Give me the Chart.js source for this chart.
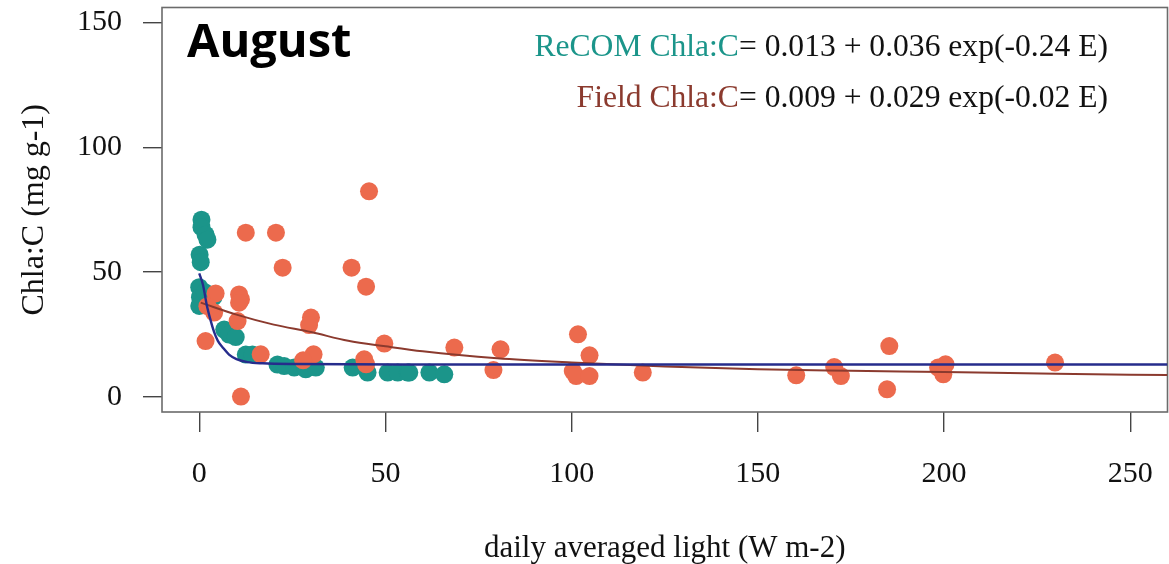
<!DOCTYPE html>
<html>
<head>
<meta charset="utf-8">
<script src="https://cdn.jsdelivr.net/npm/chart.js@4/dist/chart.umd.min.js"></script>
<style>
  html, body { margin: 0; padding: 0; background: #fff; }
  #wrap { position: relative; width: 1169px; height: 564px; }
</style>
</head>
<body>
<div id="wrap"><canvas id="chlChart"></canvas></div>
<script>
// ReCOM model points (daily averaged light, Chla:C)
const RECOM_X = [0.6, 0.6, 1.7, 2.2, 0.1, 0.4, 0, 0.2, 0, 1.5, 2.8, 3.8,
                 6.7, 8, 9.8, 12.5, 14.3, 21, 22.8, 25.5, 28.6, 31.3,
                 41.2, 45.2, 50.6, 53.3, 56, 56.4, 61.8, 65.8];
const RECOM_Y = [71, 68, 65, 63, 57, 54, 44, 40, 36.5, 42, 38, 40,
                 27, 25, 24, 17, 17, 13, 12.4, 11.8, 11.1, 11.8,
                 11.8, 9.8, 9.8, 9.8, 9.8, 9.8, 9.8, 9.1];

// field observations
const FIELD_X = [45.6, 12.5, 20.6, 22.4, 40.9, 44.8, 4.4, 10.7, 11.2, 10.7, 2.2, 4.0,
                 10.3, 30.0, 29.5, 1.7, 49.7, 16.5, 30.7, 27.9, 44.3, 44.8, 11.2,
                 68.5, 80.9, 79.0, 101.7, 104.8, 100.3, 101.2, 104.8, 119.1,
                 160.3, 170.5, 172.3, 185.3, 184.7, 198.4, 200.4, 199.8, 229.8];
const FIELD_Y = [82.4, 65.8, 65.8, 51.8, 51.8, 44.2, 41.5, 41.1, 39.1, 37.8, 36.4, 33.8,
                 30.4, 31.8, 28.8, 22.4, 21.4, 17.1, 17.1, 14.7, 15.1, 13.1, 0.2,
                 19.8, 19.1, 10.8, 25.1, 16.7, 10.4, 8.4, 8.4, 9.8,
                 8.7, 12.0, 8.4, 20.4, 3.1, 11.8, 13.1, 9.1, 13.8];

// fitted curves
const RECOM_FIT_X = [0, 1, 2, 3, 4, 5, 6.5, 8, 10, 13, 17, 25, 60, 260];
const RECOM_FIT_Y = [49.5, 45, 37, 31, 26, 22.5, 19.5, 17, 15.2, 14, 13.5, 13.2, 13, 13];
const FIELD_FIT_X = [0.4, 10, 20, 30, 40, 50, 60, 80, 100, 125, 150, 175, 200, 230, 260];
const FIELD_FIT_Y = [37.8, 33, 29, 26, 22.5, 20.3, 18.3, 15.5, 13.8, 12.2, 11.1, 10.5, 10, 9.3, 8.8];

const X_TICKS = [0, 50, 100, 150, 200, 250];
const Y_TICKS = [0, 50, 100, 150];

const PANEL_LABEL = 'August';
const EQ_RECOM = ['ReCOM Chla:C', '= 0.013 + 0.036 exp(-0.24 E)'];
const EQ_FIELD = ['Field Chla:C', '= 0.009 + 0.029 exp(-0.02 E)'];

const TEAL = '#1b958a';
const ORANGE = '#ec6a4d';
const NAVY = '#262c8c';
const BROWN = '#8b3a2e';

function toXY(xs, ys) {
    return xs.map((x, i) => ({ x: x, y: ys[i] }));
}

// no label overhang padding, so the plot box sits where R put it
function noOverhang(axis) {
    axis.paddingTop = 0;
    axis.paddingBottom = 0;
    axis.paddingLeft = 0;
    axis.paddingRight = 0;
}

const SERIF = '"Liberation Serif", "Times New Roman", serif';

// R-style box plus the panel text
const annotate = {
    id: 'annotate',
    beforeDatasetsDraw(chart) {
        const { ctx, chartArea: a } = chart;
        ctx.save();
        ctx.strokeStyle = '#6b6b6b';
        ctx.lineWidth = 1.6;
        ctx.strokeRect(a.left, a.top, a.right - a.left, a.bottom - a.top);
        ctx.restore();
    },
    afterDraw(chart) {
        const ctx = chart.ctx;
        ctx.save();
        ctx.font = 'bold 47px "Open Sans", "Noto Sans", sans-serif';
        ctx.fillStyle = '#000';
        ctx.textBaseline = 'alphabetic';
        ctx.textAlign = 'left';
        ctx.fillText(PANEL_LABEL, 187, 57);

        ctx.font = '31.6px ' + SERIF;
        ctx.textAlign = 'right';
        const rightX = 1108;
        [[EQ_RECOM, TEAL, 56], [EQ_FIELD, BROWN, 107]].forEach(([parts, col, y]) => {
            const w = ctx.measureText(parts[1]).width;
            ctx.fillStyle = '#111';
            ctx.fillText(parts[1], rightX, y);
            ctx.fillStyle = col;
            ctx.fillText(parts[0], rightX - w, y);
        });
        ctx.restore();
    }
};

Chart.defaults.font.family = SERIF;
Chart.defaults.color = '#111';

new Chart(document.getElementById('chlChart'), {
    type: 'scatter',
    data: {
        datasets: [
            {
                type: 'line',
                data: toXY(RECOM_FIT_X, RECOM_FIT_Y),
                borderColor: NAVY,
                borderWidth: 2.4,
                pointRadius: 0,
                cubicInterpolationMode: 'monotone',
                fill: false,
                order: 0
            },
            {
                type: 'line',
                data: toXY(FIELD_FIT_X, FIELD_FIT_Y),
                borderColor: BROWN,
                borderWidth: 2,
                pointRadius: 0,
                cubicInterpolationMode: 'monotone',
                fill: false,
                order: 1
            },
            {
                data: toXY(FIELD_X, FIELD_Y),
                backgroundColor: ORANGE,
                borderWidth: 0,
                pointRadius: 9,
                order: 2
            },
            {
                data: toXY(RECOM_X, RECOM_Y),
                backgroundColor: TEAL,
                borderWidth: 0,
                pointRadius: 9,
                order: 3
            }
        ]
    },
    options: {
        responsive: true,
        maintainAspectRatio: false,
        animation: false,
        layout: { autoPadding: false, padding: { top: 7.5, right: 1.5, left: 0, bottom: 0 } },
        plugins: {
            legend: { display: false },
            tooltip: { enabled: false }
        },
        scales: {
            x: {
                type: 'linear',
                min: -10,
                max: 260,
                afterBuildTicks: (axis) => { axis.ticks = X_TICKS.map(v => ({ value: v })); },
                afterFit: (axis) => { axis.height = 152; noOverhang(axis); },
                border: { display: false },
                grid: { drawOnChartArea: false, drawTicks: true, tickLength: 20, color: '#444', lineWidth: 1.4 },
                ticks: { font: { size: 30 }, color: '#111', padding: 24, maxRotation: 0 },
                title: {
                    display: true,
                    text: 'daily averaged light (W m-2)',
                    font: { size: 31, lineHeight: 0.95 },
                    color: '#111',
                    padding: { top: 0, bottom: 0 }
                }
            },
            y: {
                type: 'linear',
                min: -6,
                max: 156,
                afterBuildTicks: (axis) => { axis.ticks = Y_TICKS.map(v => ({ value: v })); },
                afterFit: (axis) => { axis.width = 162; noOverhang(axis); },
                border: { display: false },
                grid: { drawOnChartArea: false, drawTicks: true, tickLength: 19, color: '#444', lineWidth: 1.4 },
                ticks: { font: { size: 30 }, color: '#111', padding: 21 },
                title: {
                    display: true,
                    text: 'Chla:C (mg g-1)',
                    font: { size: 32, lineHeight: 1.2 },
                    color: '#111',
                    padding: { top: 15, bottom: 0 }
                }
            }
        }
    },
    plugins: [annotate]
});
</script>
</body>
</html>
